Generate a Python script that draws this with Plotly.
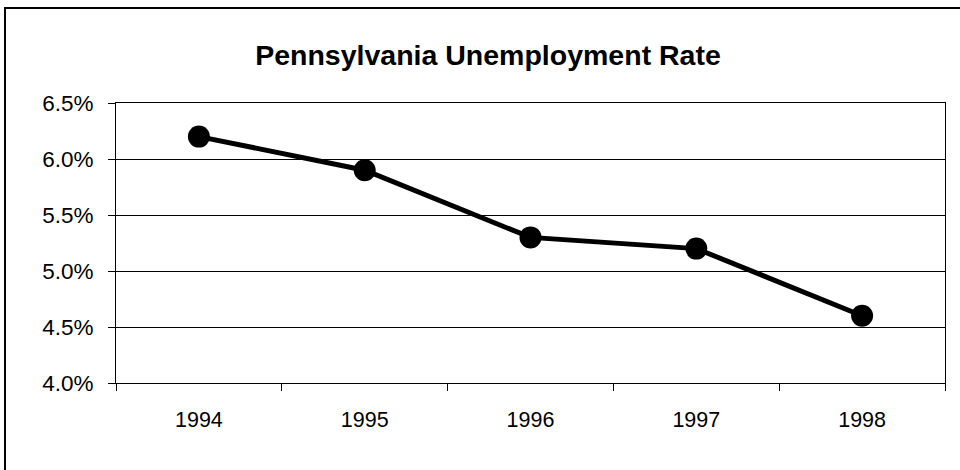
import plotly.graph_objects as go

years = ["1994", "1995", "1996", "1997", "1998"]
rate = [6.2, 5.9, 5.3, 5.2, 4.6]
y_ticks = [4.0, 4.5, 5.0, 5.5, 6.0, 6.5]
y_labels = [f"{v:.1f}%" for v in y_ticks]

W, H = 960, 470
ML, MR, MT, MB = 116, 15, 103, 87
pw, ph = W - ML - MR, H - MT - MB

def px_x(p):
    return (p - ML) / pw

def px_y(p):
    return (H - MB - p) / ph

fig = go.Figure()
fig.add_trace(go.Scatter(
    x=years, y=rate, mode="lines+markers",
    line=dict(color="black", width=5),
    marker=dict(color="black", size=22),
    showlegend=False,
))

fig.update_layout(
    width=W, height=H,
    margin=dict(l=ML, r=MR, t=MT, b=MB),
    paper_bgcolor="white", plot_bgcolor="white",
    font=dict(family="Liberation Sans, Arial, sans-serif", color="black", size=21),
    title=dict(text="<b>Pennsylvania Unemployment Rate</b>",
               x=px_x(488), xref="paper", xanchor="center",
               y=1 - 55 / H, yanchor="middle",
               font=dict(size=28.5, color="black")),
    xaxis=dict(
        type="category", tickson="boundaries", ticks="outside", ticklen=7,
        tickcolor="black", showline=True, linecolor="black", linewidth=1,
        mirror=True, showgrid=False, range=[-0.5, 4.5],
        tickfont=dict(size=21.5), ticklabelstandoff=17,
    ),
    yaxis=dict(
        range=[4.0, 6.5], tickvals=y_ticks, ticktext=y_labels,
        ticks="outside", ticklen=7, tickcolor="black",
        showline=True, linecolor="black", linewidth=1, mirror=True,
        showgrid=True, gridcolor="black", gridwidth=1, zeroline=False,
        tickfont=dict(size=22.5), ticklabelstandoff=10,
    ),
    shapes=[dict(type="rect", xref="paper", yref="paper",
                 x0=px_x(5), x1=px_x(963), y0=px_y(475), y1=px_y(8),
                 line=dict(color="black", width=2), layer="below")],
)

fig.write_html("out.html")
